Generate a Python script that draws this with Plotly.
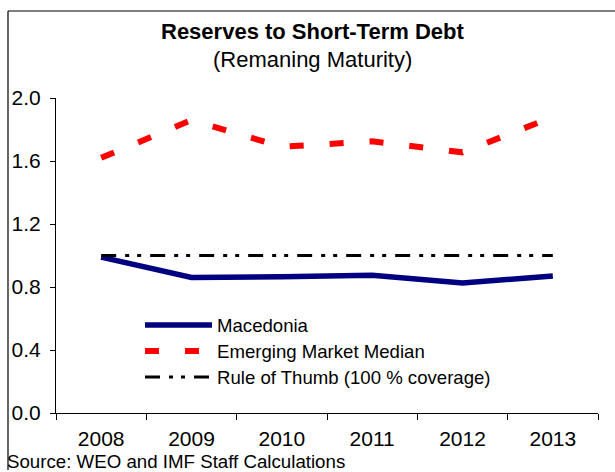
import plotly.graph_objects as go

# Reserves to short-term debt ratio (remaining maturity)
years = ["2008", "2009", "2010", "2011", "2012", "2013"]
macedonia = [0.99, 0.86, 0.865, 0.875, 0.825, 0.87]
em_median = [1.62, 1.86, 1.69, 1.725, 1.655, 1.88]
rule_of_thumb = [1.0, 1.0, 1.0, 1.0, 1.0, 1.0]
y_ticks = [0.0, 0.4, 0.8, 1.2, 1.6, 2.0]

series_names = ["Macedonia", "Emerging Market Median", "Rule of Thumb (100 % coverage)"]
colors = ["#000080", "#ff0000", "#000000"]
widths = [5.5, 6, 3]
dashes = ["solid", "14px,26px", "15px,9px,4px,8px,4px,9px"]

FONT = "Liberation Sans, Arial, sans-serif"

# plot-area geometry in pixels (for converting overlay positions to paper coords)
L, R, T, B = 56, 598, 98, 413
W, H = 615, 472


def px_x(px):
    return (px - L) / (R - L)


def px_y(py):
    return (B - py) / (B - T)


fig = go.Figure()
for name, vals, col, w, d in zip(series_names, [macedonia, em_median, rule_of_thumb],
                                 colors, widths, dashes):
    fig.add_trace(go.Scatter(x=years, y=vals, mode="lines", name=name,
                             line=dict(color=col, width=w, dash=d),
                             showlegend=False))

shapes = []
annotations = []

# outer frame (top and left edges)
shapes.append(dict(type="line", xref="paper", yref="paper",
                   x0=px_x(8), x1=px_x(615), y0=px_y(11), y1=px_y(11),
                   line=dict(color="black", width=1.2)))
shapes.append(dict(type="line", xref="paper", yref="paper",
                   x0=px_x(8), x1=px_x(8), y0=px_y(11), y1=px_y(470),
                   line=dict(color="black", width=1.2)))

# hand-placed legend
legend_rows = [325, 351, 377]
for name, col, w, d, row in zip(series_names, colors, widths, dashes, legend_rows):
    shapes.append(dict(type="line", xref="paper", yref="paper",
                       x0=px_x(145), x1=px_x(212), y0=px_y(row), y1=px_y(row),
                       line=dict(color=col, width=w, dash=d)))
    annotations.append(dict(xref="paper", yref="paper", x=px_x(215), y=px_y(row),
                            text=name, showarrow=False, xanchor="left", yanchor="middle",
                            font=dict(family=FONT, size=18.6, color="black")))

# titles
annotations.append(dict(xref="paper", yref="paper", x=px_x(312), y=px_y(31),
                        text="<b>Reserves to Short-Term Debt</b>", showarrow=False,
                        xanchor="center", yanchor="middle",
                        font=dict(family=FONT, size=22, color="black")))
annotations.append(dict(xref="paper", yref="paper", x=px_x(312), y=px_y(60),
                        text="(Remaning Maturity)", showarrow=False,
                        xanchor="center", yanchor="middle",
                        font=dict(family=FONT, size=22, color="black")))

# source note
annotations.append(dict(xref="paper", yref="paper", x=px_x(5), y=px_y(462),
                        text="Source: WEO and IMF Staff Calculations", showarrow=False,
                        xanchor="left", yanchor="middle",
                        font=dict(family=FONT, size=18.7, color="black")))

fig.update_layout(
    width=W, height=H,
    margin=dict(l=L, r=W - R, t=T, b=H - B, pad=0),
    paper_bgcolor="white", plot_bgcolor="white",
    font=dict(family=FONT, size=21, color="black"),
    shapes=shapes, annotations=annotations,
    showlegend=False,
)
fig.update_xaxes(type="category", range=[-0.5, 5.5], tickson="boundaries",
                 ticks="outside", ticklen=6, tickcolor="black", tickwidth=1,
                 showline=True, linecolor="black", linewidth=1,
                 showgrid=False, zeroline=False, ticklabelstandoff=7,
                 tickfont=dict(family=FONT, size=21, color="black"))
fig.update_yaxes(range=[0, 2.0], tickvals=y_ticks, tickformat=".1f",
                 ticks="outside", ticklen=5, tickcolor="black", tickwidth=1,
                 showline=True, linecolor="black", linewidth=1,
                 showgrid=False, zeroline=False, ticklabelstandoff=5,
                 tickfont=dict(family=FONT, size=21, color="black"))

fig.write_html("out.html")
